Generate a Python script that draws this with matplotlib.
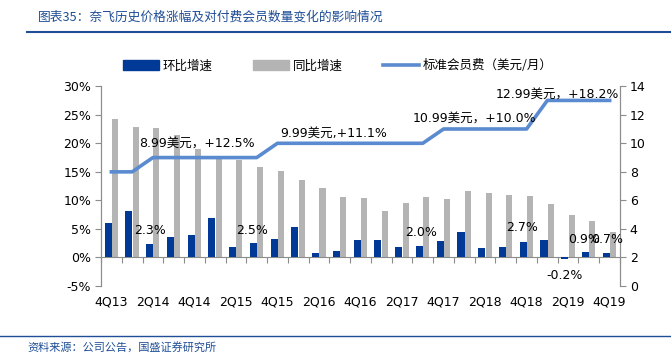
import matplotlib
matplotlib.use("Agg")
import matplotlib.pyplot as plt
from matplotlib.patches import Patch
from matplotlib.lines import Line2D
import numpy as np

plt.rcParams['font.family'] = ['DejaVu Sans', 'Noto Sans CJK SC']

quarters = ['4Q13', '1Q14', '2Q14', '3Q14', '4Q14', '1Q15', '2Q15', '3Q15', '4Q15',
            '1Q16', '2Q16', '3Q16', '4Q16', '1Q17', '2Q17', '3Q17', '4Q17',
            '1Q18', '2Q18', '3Q18', '4Q18', '1Q19', '2Q19', '3Q19', '4Q19']
qoq = [6.0, 8.2, 2.3, 3.5, 3.9, 6.9, 1.9, 2.5, 3.2, 5.3, 0.7, 1.1, 3.1, 3.1, 1.9,
       2.0, 2.9, 4.4, 1.7, 1.9, 2.7, 3.0, -0.2, 0.9, 0.7]
yoy = [24.3, 22.9, 22.6, 21.5, 19.0, 17.3, 17.0, 15.9, 15.1, 13.5, 12.1, 10.6, 10.4,
       8.1, 9.5, 10.6, 10.3, 11.6, 11.2, 10.9, 10.7, 9.3, 7.4, 6.4, 4.4]
fee = [7.99, 7.99, 8.99, 8.99, 8.99, 8.99, 8.99, 8.99, 9.99, 9.99, 9.99, 9.99, 9.99,
       9.99, 9.99, 9.99, 10.99, 10.99, 10.99, 10.99, 10.99, 12.99, 12.99, 12.99, 12.99]
left_ticks = [-5, 0, 5, 10, 15, 20, 25, 30]
right_ticks = [0, 2, 4, 6, 8, 10, 12, 14]
legend_labels = ['环比增速', '同比增速', '标准会员费（美元/月）']
price_notes = ['8.99美元，+12.5%', '9.99美元,+11.1%', '10.99美元，+10.0%', '12.99美元，+18.2%']
pct_notes = ['2.3%', '2.5%', '2.0%', '2.7%', '-0.2%', '0.9%', '0.7%']

BLUE = '#013A96'
GRAY = '#B4B4B4'
LINE = '#5A8ACF'
AXC = '#8C8C8C'
TITLEC = '#1F4E96'

fig = plt.figure(figsize=(6.71, 3.56), dpi=100)
ax = fig.add_axes([101/671, 1-286/356, 519/671, 200/356])
ax2 = ax.twinx()

x = np.arange(len(quarters))
ax.bar(x - 0.16, qoq, width=0.34, color=BLUE, zorder=3)
ax.bar(x + 0.17, yoy, width=0.29, color=GRAY, zorder=2)
ax2.plot(x, fee, color=LINE, lw=2.6, zorder=4)

ax.set_xlim(-0.5, len(quarters) - 0.5)
ax.set_ylim(-5, 30)
ax2.set_ylim(0, 14)
ax.set_yticks(left_ticks)
ax.set_yticklabels([f'{t}%' for t in left_ticks])
ax2.set_yticks(right_ticks)
ax2.set_yticklabels([str(t) for t in right_ticks])

for a in (ax, ax2):
    a.spines['top'].set_visible(False)
    a.spines['left'].set_color(AXC)
    a.spines['right'].set_color(AXC)
    a.tick_params(axis='y', colors=AXC, labelcolor='black', labelsize=9, length=4, width=0.8)
ax2.spines['bottom'].set_visible(False)
ax.spines['bottom'].set_position(('data', 0))
ax.spines['bottom'].set_color(AXC)
ax.set_xticks(np.arange(-0.5, len(quarters), 1))
ax.set_xticklabels([])
ax.tick_params(axis='x', colors=AXC, length=4, width=0.8, direction='out')
ax.tick_params(axis='y', pad=3)
ax2.tick_params(axis='y', pad=3)

sec = ax.secondary_xaxis('bottom')
sec.set_xticks(x[::2])
sec.set_xticklabels(quarters[::2], fontsize=9)
sec.spines['bottom'].set_visible(False)
sec.tick_params(length=0, pad=7)

# price annotations (right-axis coordinates)
price_pos = [(4.1, 10.0), (10.7, 10.7), (17.5, 11.75), (21.5, 13.45)]
for t, (px, py) in zip(price_notes, price_pos):
    ax2.text(px, py, t, ha='center', va='center', fontsize=9, zorder=6)

pct_pos = [(1.86, 4.8), (6.8, 4.8), (14.9, 4.3), (19.8, 5.2), (21.85, -3.1), (22.75, 3.1), (23.9, 3.1)]
for t, (px, py) in zip(pct_notes, pct_pos):
    ax2.text(px, (py + 5) * 0.4, t, ha='center', va='center', fontsize=9, zorder=6)

handles = [Patch(color=BLUE), Patch(color=GRAY), Line2D([0], [0], color=LINE, lw=2.6)]
fig.legend(handles, legend_labels, loc='center', bbox_to_anchor=(0.503, 0.815), ncol=3,
           frameon=False, handlelength=2.9, handleheight=0.8,
           handletextpad=0.3, columnspacing=3.2,
           prop={'family': ['Noto Sans CJK SC'], 'size': 9})

fig.text(38/671, 1-17/356, '图表35：奈飞历史价格涨幅及对付费会员数量变化的影响情况',
         fontsize=9.2, color=TITLEC, style='italic', ha='left', va='center',
         family=['Noto Sans CJK SC'])
fig.add_artist(Line2D([27/671, 1.0], [1-32/356, 1-32/356], color=TITLEC, lw=1.5))
fig.add_artist(Line2D([0.0, 1.0], [1-336/356, 1-336/356], color=TITLEC, lw=1.0))
fig.text(27/671, 1-347/356, '资料来源：公司公告，国盛证券研究所', fontsize=8,
         color=TITLEC, style='italic', ha='left', va='center', family=['Noto Sans CJK SC'])

fig.savefig('out.png', dpi=100)
